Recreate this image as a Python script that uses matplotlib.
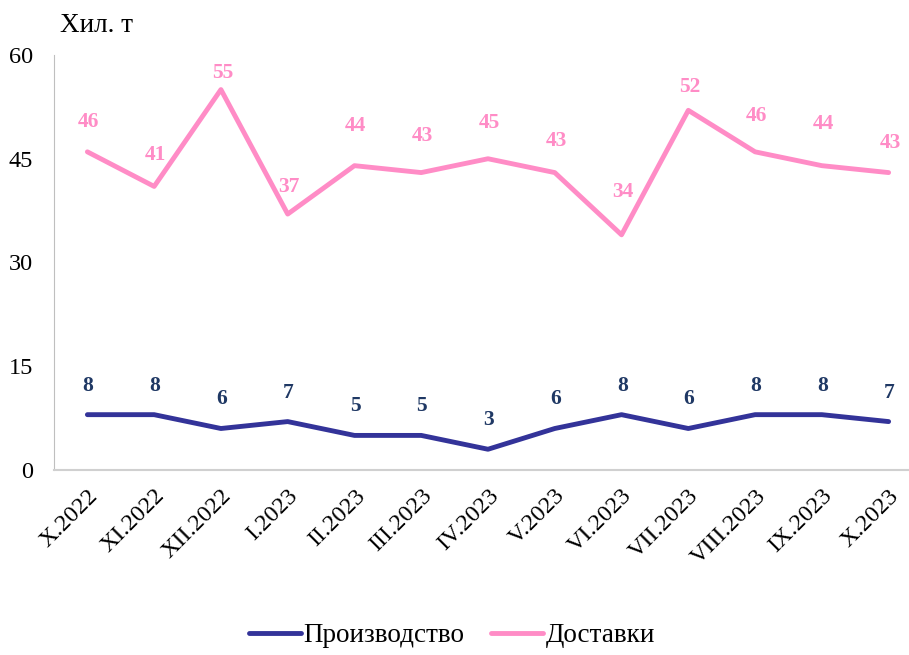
import matplotlib.pyplot as plt

plt.rcParams['font.family'] = ['Liberation Serif', 'DejaVu Serif']

# data
months = ["X.2022", "XI.2022", "XII.2022", "I.2023", "II.2023", "III.2023", "IV.2023",
          "V.2023", "VI.2023", "VII.2023", "VIII.2023", "IX.2023", "X.2023"]
production = [8, 8, 6, 7, 5, 5, 3, 6, 8, 6, 8, 8, 7]
deliveries = [46, 41, 55, 37, 44, 43, 45, 43, 34, 52, 46, 44, 43]

# how far above each pink point its label sits (px), as in the original
pink_lift = [30, 31, 17, 27, 40, 37, 36, 32, 43, 23, 36, 42, 30]

navy = "#333399"
pink = "#FF8CC6"
label_navy = "#1F3864"

fig = plt.figure(figsize=(9.09, 6.55), dpi=100)
# plot area runs a little past the right edge like the original
ax = fig.add_axes([54 / 909, 1 - 470 / 655, 868 / 909, 415 / 655])

x = range(len(months))
ax.plot(x, production, color=navy, lw=3.5, solid_capstyle="round", label="Производство")
ax.plot(x, deliveries, color=pink, lw=3.5, solid_capstyle="round", label="Доставки")

# value labels (offsets in points, 1px = 0.72pt)
for i, v in enumerate(production):
    ax.annotate(str(v), (i, v), xytext=(0.5, 29 * 0.72), textcoords="offset points",
                ha="center", va="center", color=label_navy, fontsize=15.5, fontweight="bold")
for i, v in enumerate(deliveries):
    ax.annotate(str(v), (i, v), xytext=(1, pink_lift[i] * 0.72), textcoords="offset points",
                ha="center", va="center", color=pink, fontsize=15.5, fontweight="bold")

ax.set_xlim(-0.5, 12.5)
ax.set_ylim(0, 60)
ax.set_yticks([0, 15, 30, 45, 60])
ax.set_xticks(list(x))
ax.set_xticklabels(months, rotation=45, ha="right", rotation_mode="anchor", fontsize=17.5)
ax.tick_params(axis="y", length=0, labelsize=17.5, pad=15)
ax.tick_params(axis="x", length=0, pad=11)

for s in ["top", "right"]:
    ax.spines[s].set_visible(False)
ax.spines["left"].set_color("#BFBFBF")
ax.spines["bottom"].set_color("#D0D0D0")
ax.spines["bottom"].set_linewidth(1.5)

fig.text(60 / 909, 1 - 25 / 655, "Хил. т", fontsize=19.5, ha="left", va="center")

fig.legend(loc="center", bbox_to_anchor=(452 / 909, 1 - 636 / 655), ncol=2, frameon=False,
           fontsize=19.5, handlelength=1.9, handletextpad=0.1, columnspacing=1.0)

fig.savefig("out.png", dpi=100)
